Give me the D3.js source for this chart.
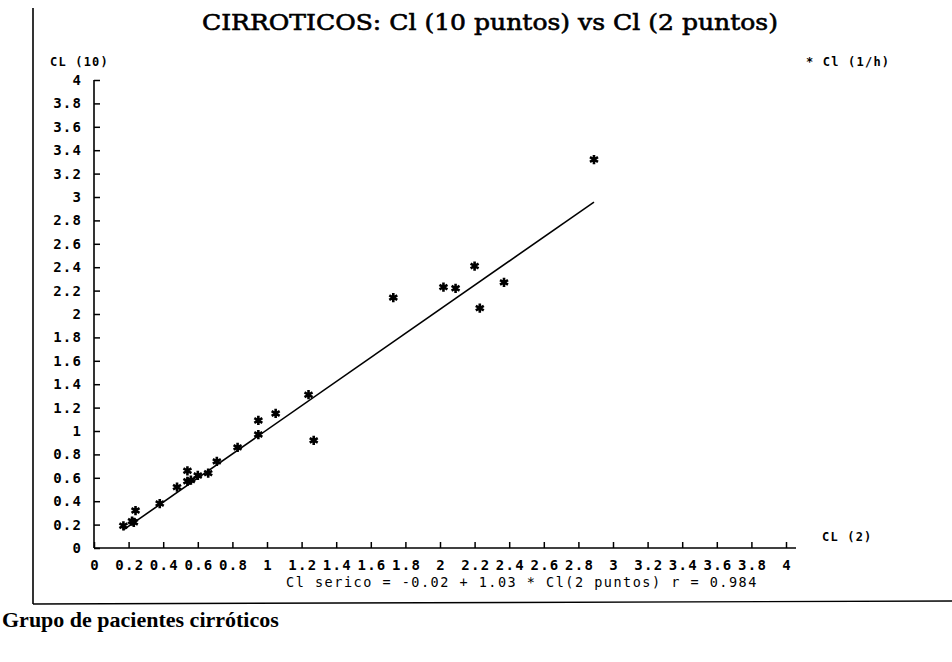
<!DOCTYPE html>
<html>
<head>
<meta charset="utf-8">
<script src="https://cdn.jsdelivr.net/npm/d3@7"></script>
<style>
  html, body { margin: 0; padding: 0; background: #fff; }
  svg { display: block; }
  .mono { font-family: "DejaVu Sans Mono", monospace; font-weight: bold; fill: #000; }
</style>
</head>
<body>
<svg id="chart" width="952" height="662"></svg>
<script>
// Clearance, 2-point method (x) vs 10-point method (y), cirrhotic patients
const clDosPuntos = [0.17, 0.22, 0.23, 0.24, 0.38, 0.48, 0.54, 0.54, 0.56, 0.60, 0.66, 0.71, 0.83,
                     0.95, 0.95, 1.05, 1.24, 1.27, 1.73, 2.02, 2.09, 2.20, 2.23, 2.37, 2.89];
const clDiezPuntos = [0.19, 0.23, 0.22, 0.32, 0.38, 0.52, 0.66, 0.57, 0.58, 0.62, 0.64, 0.74, 0.86,
                      0.97, 1.09, 1.15, 1.31, 0.92, 2.14, 2.23, 2.22, 2.41, 2.05, 2.27, 3.32];

// Regression reported under the plot
const intercept = -0.02;
const slope = 1.03;
const rValue = 0.984;

const xTicks = [0, 0.2, 0.4, 0.6, 0.8, 1, 1.2, 1.4, 1.6, 1.8, 2, 2.2, 2.4, 2.6, 2.8, 3, 3.2, 3.4, 3.6, 3.8, 4];
const yTicks = [0, 0.2, 0.4, 0.6, 0.8, 1, 1.2, 1.4, 1.6, 1.8, 2, 2.2, 2.4, 2.6, 2.8, 3, 3.2, 3.4, 3.6, 3.8, 4];

const titleText = "CIRROTICOS: Cl (10 puntos) vs Cl (2 puntos)";
const yAxisLabel = "CL (10)";
const xAxisLabel = "CL (2)";
const legendText = "* Cl (1/h)";
const captionText = "Grupo de pacientes cirróticos";

const svg = d3.select("#chart");
svg.append("rect").attr("width", 952).attr("height", 662).attr("fill", "#fff");

const x = d3.scaleLinear().domain([0, 4]).range([94, 786]);
const y = d3.scaleLinear().domain([0, 4]).range([548, 80]);
const fmt = d3.format("~g");

// page frame: left rule and bottom rule
svg.append("line").attr("x1", 33).attr("y1", 8).attr("x2", 33).attr("y2", 604)
  .attr("stroke", "#000").attr("stroke-width", 1.6);
svg.append("line").attr("x1", 33).attr("y1", 604).attr("x2", 952).attr("y2", 601)
  .attr("stroke", "#000").attr("stroke-width", 1.4);

// title
svg.append("text")
  .attr("x", 490).attr("y", 30)
  .attr("text-anchor", "middle")
  .attr("textLength", 576).attr("lengthAdjust", "spacingAndGlyphs")
  .style("font-family", "'DejaVu Serif', serif")
  .style("font-size", "22px")
  .style("font-weight", "normal")
  .attr("stroke", "#000").attr("stroke-width", 0.6)
  .text(titleText);

// y axis (ticks pointing into the plot)
const yAxis = d3.axisLeft(y).tickValues(yTicks).tickFormat(fmt)
  .tickSizeInner(-6).tickSizeOuter(0).tickPadding(13);
const gy = svg.append("g").attr("transform", `translate(${x(0)},0)`).call(yAxis);
gy.select(".domain").remove();
gy.append("line").attr("x1", 0).attr("x2", 0).attr("y1", y(0)).attr("y2", y(4))
  .attr("stroke", "#000").attr("stroke-width", 1.6);

// x axis (ticks pointing up)
const xAxis = d3.axisBottom(x).tickValues(xTicks).tickFormat(fmt)
  .tickSizeInner(-6).tickSizeOuter(0).tickPadding(12);
const gx = svg.append("g").attr("transform", `translate(0,${y(0)})`).call(xAxis);
gx.select(".domain").remove();
gx.append("line").attr("x1", x(0)).attr("x2", x(4) + 10).attr("y1", 0).attr("y2", 0)
  .attr("stroke", "#000").attr("stroke-width", 1.6);

[gx, gy].forEach(g => {
  g.selectAll(".tick line").attr("stroke", "#000").attr("stroke-width", 1.5);
  g.selectAll(".tick text")
    .attr("class", "mono")
    .style("font-size", "14px")
    .style("letter-spacing", "1.3px")
    .attr("fill", "#000");
});
gy.selectAll(".tick text").attr("dx", "1.3px");
gx.selectAll(".tick text").attr("dx", "0.7px");

// axis captions and legend
svg.append("text").attr("class", "mono")
  .attr("x", 50).attr("y", 66)
  .style("font-size", "12px").style("letter-spacing", "1.2px")
  .text(yAxisLabel);
svg.append("text").attr("class", "mono")
  .attr("x", 822).attr("y", 541)
  .style("font-size", "12px").style("letter-spacing", "1.2px")
  .text(xAxisLabel);
svg.append("text").attr("class", "mono")
  .attr("x", 806).attr("y", 66)
  .style("font-size", "12px").style("letter-spacing", "1.2px")
  .style("white-space", "pre")
  .text(legendText);

// fitted regression line over the observed range
const xMin = d3.min(clDosPuntos), xMax = d3.max(clDosPuntos);
const fit = v => intercept + slope * v;
svg.append("path")
  .datum([xMin, xMax])
  .attr("fill", "none").attr("stroke", "#000").attr("stroke-width", 1.6)
  .attr("d", d3.line().x(d => x(d)).y(d => y(fit(d))));

// observations
const pts = clDosPuntos.map((v, i) => ({ x: v, y: clDiezPuntos[i] }));
const star = d3.symbol().type(d3.symbolAsterisk).size(60);
svg.append("g").selectAll("path")
  .data(pts).join("path")
  .attr("transform", d => `translate(${x(d.x)},${y(d.y)})`)
  .attr("d", star)
  .attr("fill", "none").attr("stroke", "#000").attr("stroke-width", 2.6);

// regression equation
svg.append("text")
  .attr("x", 522).attr("y", 587)
  .attr("text-anchor", "middle")
  .style("font-family", "'DejaVu Sans Mono', monospace")
  .style("font-size", "13.5px")
  .style("letter-spacing", "1.5px")
  .style("white-space", "pre")
  .text(`Cl serico = ${intercept.toFixed(2)} + ${slope.toFixed(2)} * Cl(2 puntos) r = ${rValue.toFixed(3)}`);

// caption
svg.append("text")
  .attr("x", 2).attr("y", 627)
  .style("font-family", "'Liberation Serif', 'Times New Roman', serif")
  .style("font-size", "22px")
  .style("font-weight", "bold")
  .text(captionText);
</script>
</body>
</html>
